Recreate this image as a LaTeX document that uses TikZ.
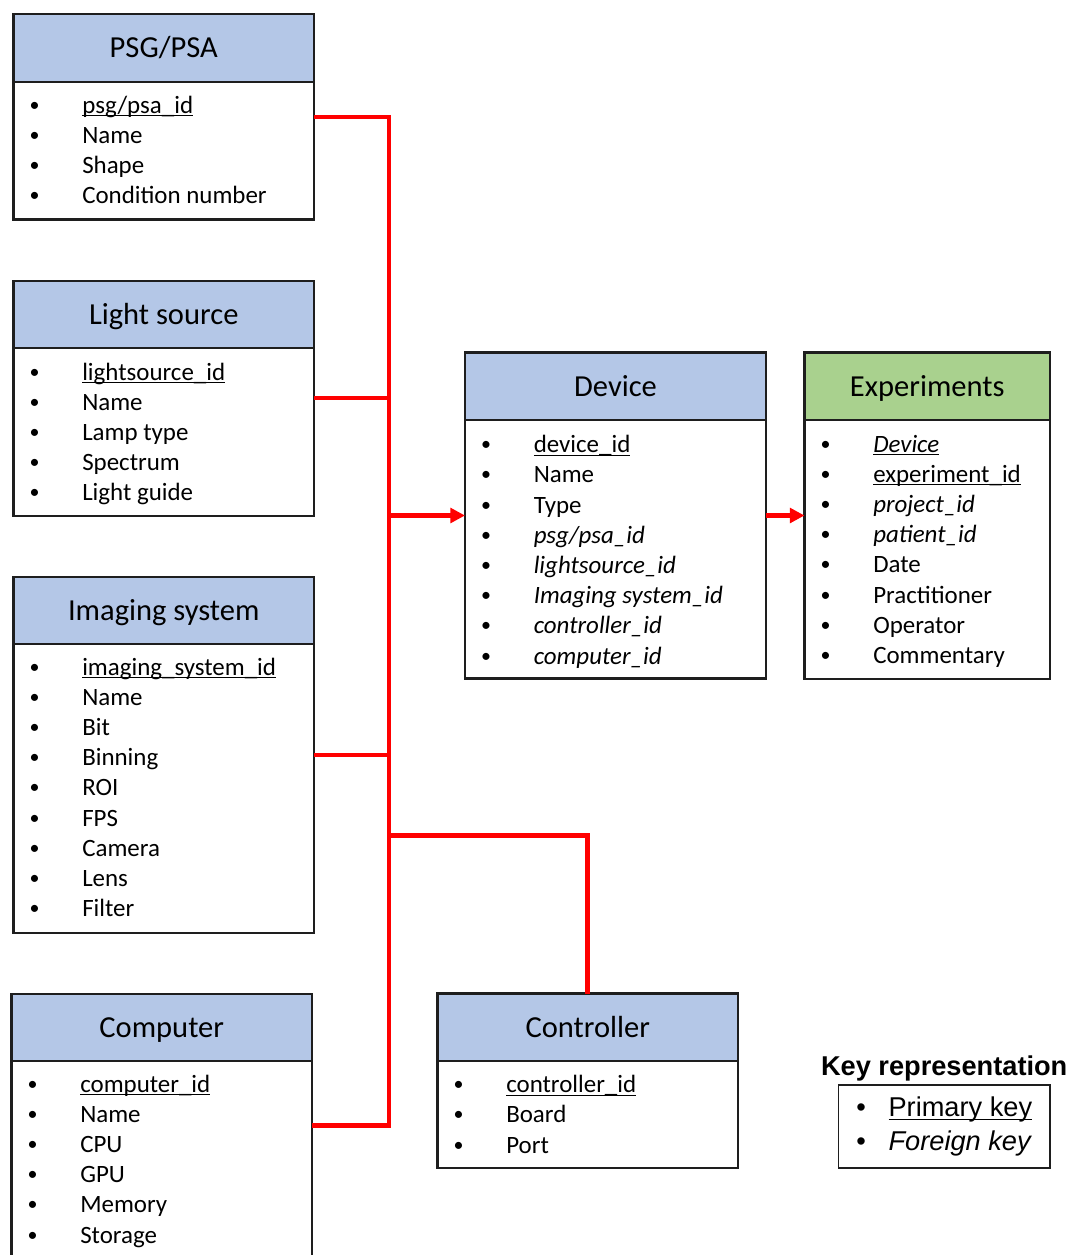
\documentclass[tikz,border=0pt]{standalone}
\usepackage{fontspec}
\setmainfont{Carlito}
\newfontfamily\arialf{Liberation Sans}
\usetikzlibrary{fit,arrows.meta}
\definecolor{hdrblue}{RGB}{180,199,231}
\definecolor{hdrgreen}{RGB}{169,209,142}
\definecolor{boxline}{RGB}{30,30,30}
\newcommand\ulk[1]{\setbox0\hbox{#1}\rlap{\rule[-2.4pt]{\wd0}{0.95pt}}\box0}
\newcommand\smbul{\raisebox{1.5pt}{\scalebox{0.8}{\textbullet}}}
\tikzset{
 hdr/.style={draw=boxline, line width=1.9pt, fill=hdrblue, inner sep=0pt, outer sep=0pt},
 bodybox/.style={draw=boxline, line width=1.9pt, fill=white, inner sep=0pt, outer sep=0pt},
 ttl/.style={anchor=base, inner sep=0pt, font=\fontsize{22.9}{27}\selectfont},
 item/.style={anchor=base west, inner sep=0pt, font=\fontsize{18.7}{22}\selectfont},
 keyitem/.style={anchor=base west, inner sep=0pt, font=\arialf\fontsize{20.4}{24}\selectfont},
 link/.style={draw=red, line width=3.4pt},
 arr/.style={link, -{Triangle[length=11pt,width=11pt]}},
}
% #1 id, #2 left, #3 top, #4 right, #5 header bottom, #6 bottom, #7 fill, #8 title
\newcommand\entity[8]{%
 \node[bodybox, fit={(#2,#5) (#4,#6)}] (#1B) {};
 \node[hdr, fill=#7, fit={(#2,#3) (#4,#5)}] (#1H) {};
 \node[ttl] (#1T) at ({(#2+#4)/2},{#3+43.5}) {#8};
}
% #1 id, #2 left, #3 first baseline, #4 list
\newcommand\items[4]{%
 \foreach \t [count=\i] in {#4} {
  \node[item] (#1-\i) at ({#2+68.5},{#3+30.2*(\i-1)}) {\llap{\smbul\hspace{32pt}}\t};
 }
}
\begin{document}
\begin{tikzpicture}[x=0.75pt,y=-0.75pt]
\useasboundingbox (0,0) rectangle (1070,1255);
\clip (0,0) rectangle (1070,1255);

\entity{psg}{13.5}{14}{314}{82}{219.5}{hdrblue}{PSG/PSA}
\items{psg}{13.5}{113.3}{{\ulk{psg/psa\_id}},Name,Shape,Condition number}

\entity{light}{13.5}{281}{314}{348}{516}{hdrblue}{Light source}
\items{light}{13.5}{380}{{\ulk{lightsource\_id}},Name,Lamp type,Spectrum,Light guide}

\entity{img}{13.5}{577}{314}{644}{933}{hdrblue}{Imaging system}
\items{img}{13.5}{675}{{\ulk{imaging\_system\_id}},Name,Bit,Binning,ROI,FPS,Camera,Lens,Filter}

\entity{comp}{11.5}{994}{312}{1061}{1262}{hdrblue}{Computer}
\items{comp}{11.5}{1092}{{\ulk{computer\_id}},Name,CPU,GPU,Memory,Storage}

\entity{ctl}{437.5}{993.5}{738}{1061}{1168}{hdrblue}{Controller}
\items{ctl}{437.5}{1092.7}{{\ulk{controller\_id}},Board,Port}

\entity{dev}{465}{352.5}{766}{420}{678.5}{hdrblue}{Device}
\items{dev}{465}{452.7}{{\ulk{device\_id}},Name,Type,{\textit{psg/psa\_id}},{\textit{lightsource\_id}},{\textit{Imaging system\_id}},{\textit{controller\_id}},{\textit{computer\_id}}}

\entity{exp}{804.5}{352.5}{1050}{420}{679}{hdrgreen}{Experiments}
\items{exp}{804.5}{452}{{\ulk{\textit{Device}}},{\ulk{experiment\_id}},{\textit{project\_id}},{\textit{patient\_id}},Date,Practitioner,Operator,Commentary}

% connectors
\coordinate (jPsg) at (389,117);
\coordinate (jLight) at (389,398);
\coordinate (jImg) at (389,755);
\coordinate (jComp) at (389,1125.5);
\coordinate (jDev) at (389,515.5);
\coordinate (jCtl) at (389,835.5);
\draw[link] (psgB.east |- jPsg) -- (jPsg) -- (jComp) -- (compB.east |- jComp);
\draw[link] (lightB.east |- jLight) -- (jLight);
\draw[link] (imgB.east |- jImg) -- (jImg);
\draw[link] (jCtl) -| (ctlH.north);
\draw[arr] (jDev) -- (devB.west |- jDev);
\draw[arr] (devB.east |- jDev) -- (expB.west |- jDev);

% key
\node[anchor=base, inner sep=0pt, font=\arialf\bfseries\fontsize{20.4}{24}\selectfont] (keyT) at (944.2,1075) {Key representation};
\node[draw=boxline, line width=1.1pt, inner sep=0pt, fit={(838.5,1085) (1050,1168)}] (keyB) {};
\node[keyitem] (key1) at (888.3,1116.7) {\llap{\textbullet\hspace{17pt}}\ulk{Primary key}};
\node[keyitem] (key2) at (888.3,1150) {\llap{\textbullet\hspace{17pt}}\textit{Foreign key}};
\end{tikzpicture}
\end{document}
